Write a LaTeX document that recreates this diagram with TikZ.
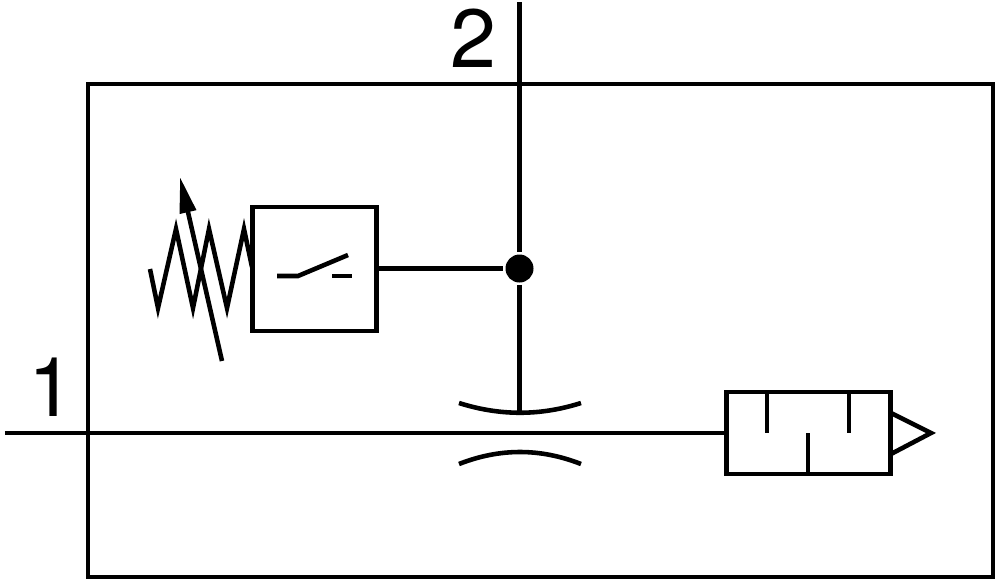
\documentclass[tikz,border=0pt]{standalone}
\usepackage{fontspec}
\setmainfont{TeX Gyre Heros}
\usetikzlibrary{arrows.meta}
\tikzset{
  symbolline/.style={line width=1.3pt,line join=miter},
  symbolbox/.style={draw,symbolline,rectangle,inner sep=0pt,outer sep=0pt},
  portlabel/.style={inner sep=0pt,font=\fontsize{23.5}{25}\selectfont}
}
\begin{document}
\begin{tikzpicture}[x=0.1mm,y=-0.1mm,symbolline]
  \useasboundingbox (0,0) rectangle (1000,585);

  \coordinate (Pone)     at (5,433);
  \coordinate (Ptwo)     at (519.5,2);
  \coordinate (Pthrottle) at (519.5,413);

  \node [symbolbox,minimum width=9.05cm,minimum height=4.93cm] (Frame) at (540.5,330.5) {};
  \node [symbolbox,minimum width=1.24cm,minimum height=1.24cm] (Switch) at (314.5,269) {};
  \node [symbolbox,minimum width=1.64cm,minimum height=0.82cm] (Silencer) at (808.5,433) {};
  \node [circle,fill,inner sep=0pt,minimum size=2.8mm] (Joint) at (519.5,268.5) {};

  \node [portlabel] (Lone) at (51,387) {1};
  \node [portlabel] (Ltwo) at (473,38) {2};

  \draw (Ptwo) -- (Joint);
  \draw (Joint) -- (Pthrottle);
  \draw (Switch.east |- Joint) -- (Joint);
  \draw (Pone) -- (Silencer);

  % throttle
  \draw (459,403) .. controls (500,416) and (540,416) .. (581,403);
  \draw (459,464) .. controls (500,448) and (540,448) .. (581,464);

  % spring
  \draw (150,269) -- (158,308) -- (176,229) -- (193,308) -- (209,229)
    -- (227,308) -- (244,229) -- (252,267);
  \draw [-{Triangle[length=3.6mm,width=1.6mm]}] (222,361) -- (180,177);

  % contact
  \draw (277,276) -- (298,276) -- (348,255);
  \draw (332,276) -- (352,276);

  % silencer
  \foreach \x in {767,849}{%
    \draw (\x,392) -- (\x,433);
  }
  \draw (808,433) -- (808,474);
  \draw (891,413) -- (931,433) -- (891,454);
\end{tikzpicture}
\end{document}
